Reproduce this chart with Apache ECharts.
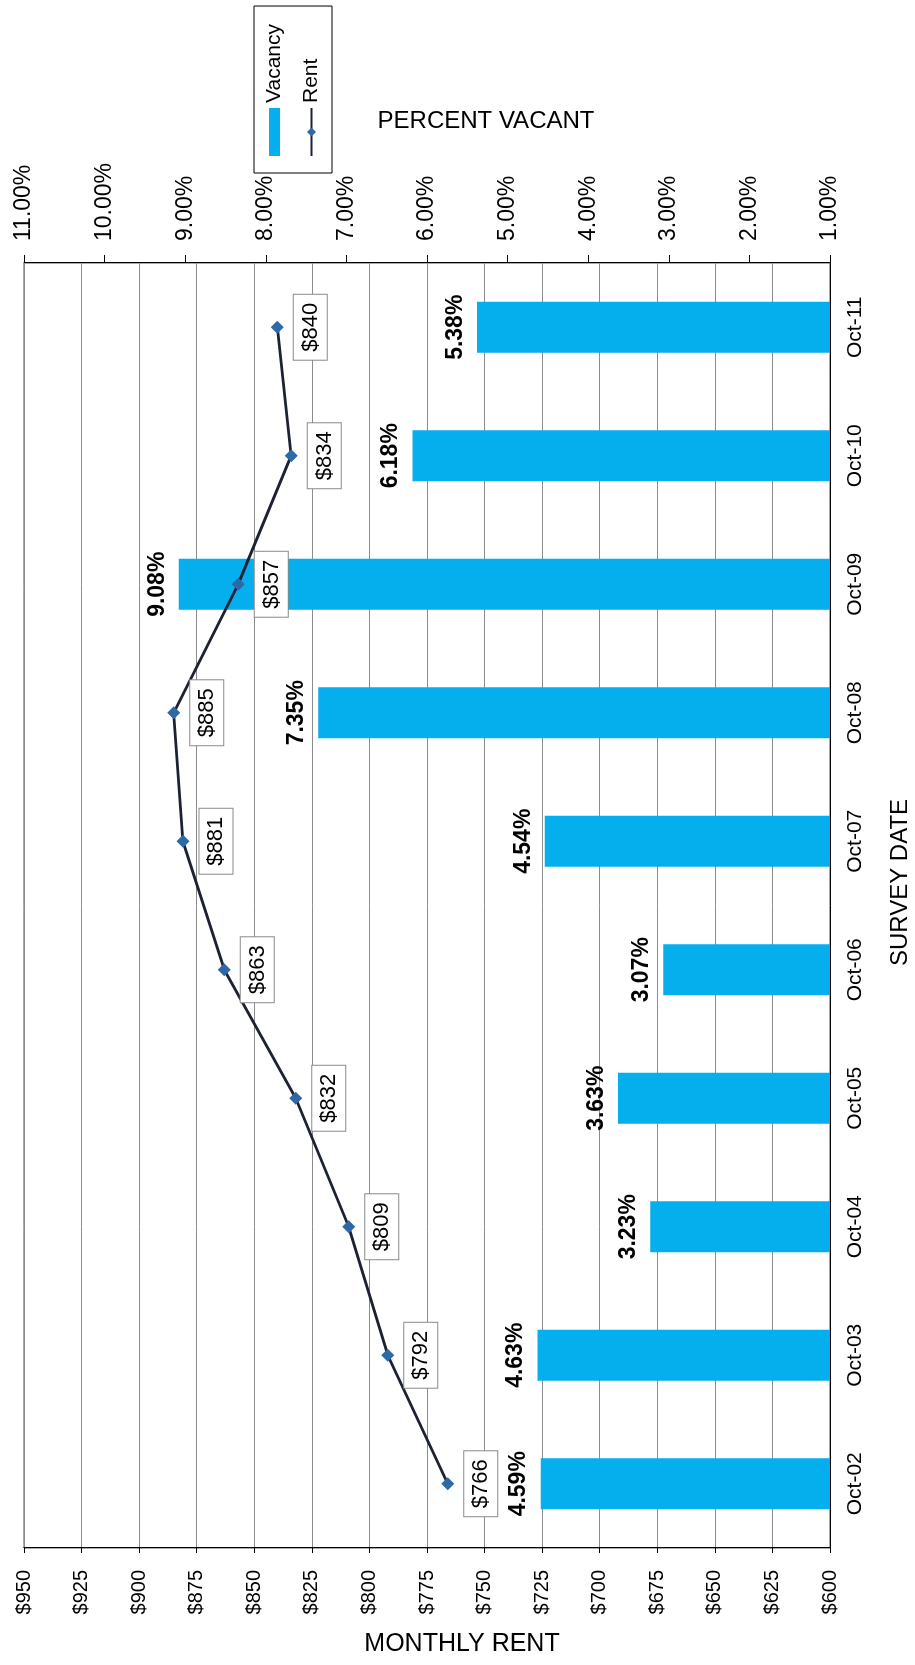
<!DOCTYPE html>
<html>
<head>
<meta charset="utf-8">
<title>Monthly Rent and Percent Vacant by Survey Date</title>
<script src="https://cdn.jsdelivr.net/npm/echarts@6/dist/echarts.min.js"></script>
<style>
  html, body { margin: 0; padding: 0; background: #ffffff; overflow: hidden; }
  #page { position: relative; width: 915px; height: 1665px; overflow: hidden; background: #ffffff; }
  /* The chart is laid out landscape and turned a quarter turn counter-clockwise,
     so the survey dates run up the right-hand side of the page. */
  #chart {
    position: absolute; left: 0; top: 0;
    width: 1665px; height: 915px;
    transform-origin: 0 0;
    transform: translate(0, 1665px) rotate(-90deg);
  }
</style>
</head>
<body>
<div id="page"><div id="chart"></div></div>
<script>
// Survey dates (category axis)
const surveyDates = ['Oct-02', 'Oct-03', 'Oct-04', 'Oct-05', 'Oct-06', 'Oct-07', 'Oct-08', 'Oct-09', 'Oct-10', 'Oct-11'];
// Percent of units vacant at each survey
const vacancyPct = [4.59, 4.63, 3.23, 3.63, 3.07, 4.54, 7.35, 9.08, 6.18, 5.38];
// Average monthly rent at each survey, dollars
const monthlyRent = [766, 792, 809, 832, 863, 881, 885, 857, 834, 840];
// Axis ranges and tick steps
const rentRange = [600, 950];
const rentStep = 25;
const vacancyRange = [1, 11];
const vacancyStep = 1;

const FONT = "'Liberation Sans', Arial, Helvetica, sans-serif";
const BAR_COLOR = '#05aeec';
const LINE_COLOR = '#1c2232';
const MARKER_COLOR = '#2c69a6';

const chart = echarts.init(document.getElementById('chart'), null, { renderer: 'canvas' });

chart.setOption({
  animation: false,
  backgroundColor: '#ffffff',
  textStyle: { fontFamily: FONT, color: '#000' },
  grid: {
    left: 117, right: 263, top: 24, bottom: 85,
    show: true, borderColor: '#555', borderWidth: 1,
    containLabel: false, outerBoundsMode: 'none'
  },
  legend: {
    orient: 'vertical',
    left: 1492, top: 254,
    padding: [10, 18, 10, 16],
    itemGap: 16,
    itemWidth: 48, itemHeight: 11,
    backgroundColor: '#fff',
    borderColor: '#000', borderWidth: 1,
    textStyle: { fontFamily: FONT, fontSize: 21, color: '#000' },
    data: [{ name: 'Vacancy', icon: 'rect' }, { name: 'Rent' }]
  },
  xAxis: [
    {
      type: 'category',
      data: surveyDates,
      position: 'bottom',
      axisLine: { onZero: false, lineStyle: { color: '#000', width: 1 } },
      axisTick: { length: 9, lineStyle: { color: '#000' } },
      axisLabel: { fontFamily: FONT, fontSize: 21, color: '#000', margin: 15 },
      splitLine: { show: false },
      name: 'SURVEY DATE',
      nameLocation: 'middle',
      nameGap: 58,
      nameTextStyle: { fontFamily: FONT, fontSize: 24, color: '#000', padding: [0, 0, 0, 46] }
    },
    {
      // inner half of the crossing tick marks
      type: 'category',
      data: surveyDates,
      position: 'bottom',
      axisLine: { show: false, onZero: false },
      axisTick: { inside: true, length: 8, lineStyle: { color: '#000' } },
      axisLabel: { show: false },
      splitLine: { show: false }
    }
  ],
  yAxis: [
    {
      type: 'value',
      position: 'left',
      min: rentRange[0], max: rentRange[1], interval: rentStep,
      axisLine: { show: true, lineStyle: { color: '#000', width: 1 } },
      axisTick: { show: true, length: 5, lineStyle: { color: '#000' } },
      axisLabel: { fontFamily: FONT, fontSize: 20, color: '#000', margin: 22, formatter: '${value}' },
      splitLine: { show: true, lineStyle: { color: '#8c8c8c', width: 1 } },
      name: 'MONTHLY RENT',
      nameLocation: 'middle',
      nameRotate: -90,
      nameGap: 84,
      nameTextStyle: { fontFamily: FONT, fontSize: 25, color: '#000', padding: [0, 0, 0, 70] }
    },
    {
      type: 'value',
      position: 'right',
      min: vacancyRange[0], max: vacancyRange[1], interval: vacancyStep,
      axisLine: { show: true, lineStyle: { color: '#000', width: 1 } },
      axisTick: { show: true, length: 8, lineStyle: { color: '#000' } },
      axisLabel: { fontFamily: FONT, fontSize: 23, color: '#000', margin: 22, formatter: v => v.toFixed(2) + '%' },
      splitLine: { show: false },
      name: 'PERCENT VACANT',
      nameLocation: 'middle',
      nameRotate: -90,
      nameGap: 130,
      nameTextStyle: { fontFamily: FONT, fontSize: 24, color: '#000', padding: [0, 0, 0, 118] }
    }
  ],
  series: [
    {
      name: 'Vacancy',
      type: 'bar',
      xAxisIndex: 0,
      yAxisIndex: 1,
      data: vacancyPct,
      barWidth: 51,
      itemStyle: { color: BAR_COLOR },
      label: {
        show: true,
        position: 'top',
        distance: 10,
        fontFamily: FONT,
        fontSize: 23,
        fontWeight: 'bold',
        color: '#000',
        formatter: p => p.value.toFixed(2) + '%'
      },
      z: 2
    },
    {
      name: 'Rent',
      type: 'line',
      xAxisIndex: 0,
      yAxisIndex: 0,
      data: monthlyRent,
      symbol: 'diamond',
      symbolSize: 13,
      lineStyle: { color: LINE_COLOR, width: 2.8 },
      itemStyle: { color: MARKER_COLOR },
      label: {
        show: true,
        position: 'bottom',
        distance: 10,
        fontFamily: FONT,
        fontSize: 22,
        color: '#000',
        backgroundColor: '#ffffff',
        borderColor: '#8a8a8a',
        borderWidth: 1,
        padding: [6, 8, 5, 8],
        formatter: p => '$' + p.value
      },
      z: 5
    }
  ]
});
</script>
</body>
</html>
